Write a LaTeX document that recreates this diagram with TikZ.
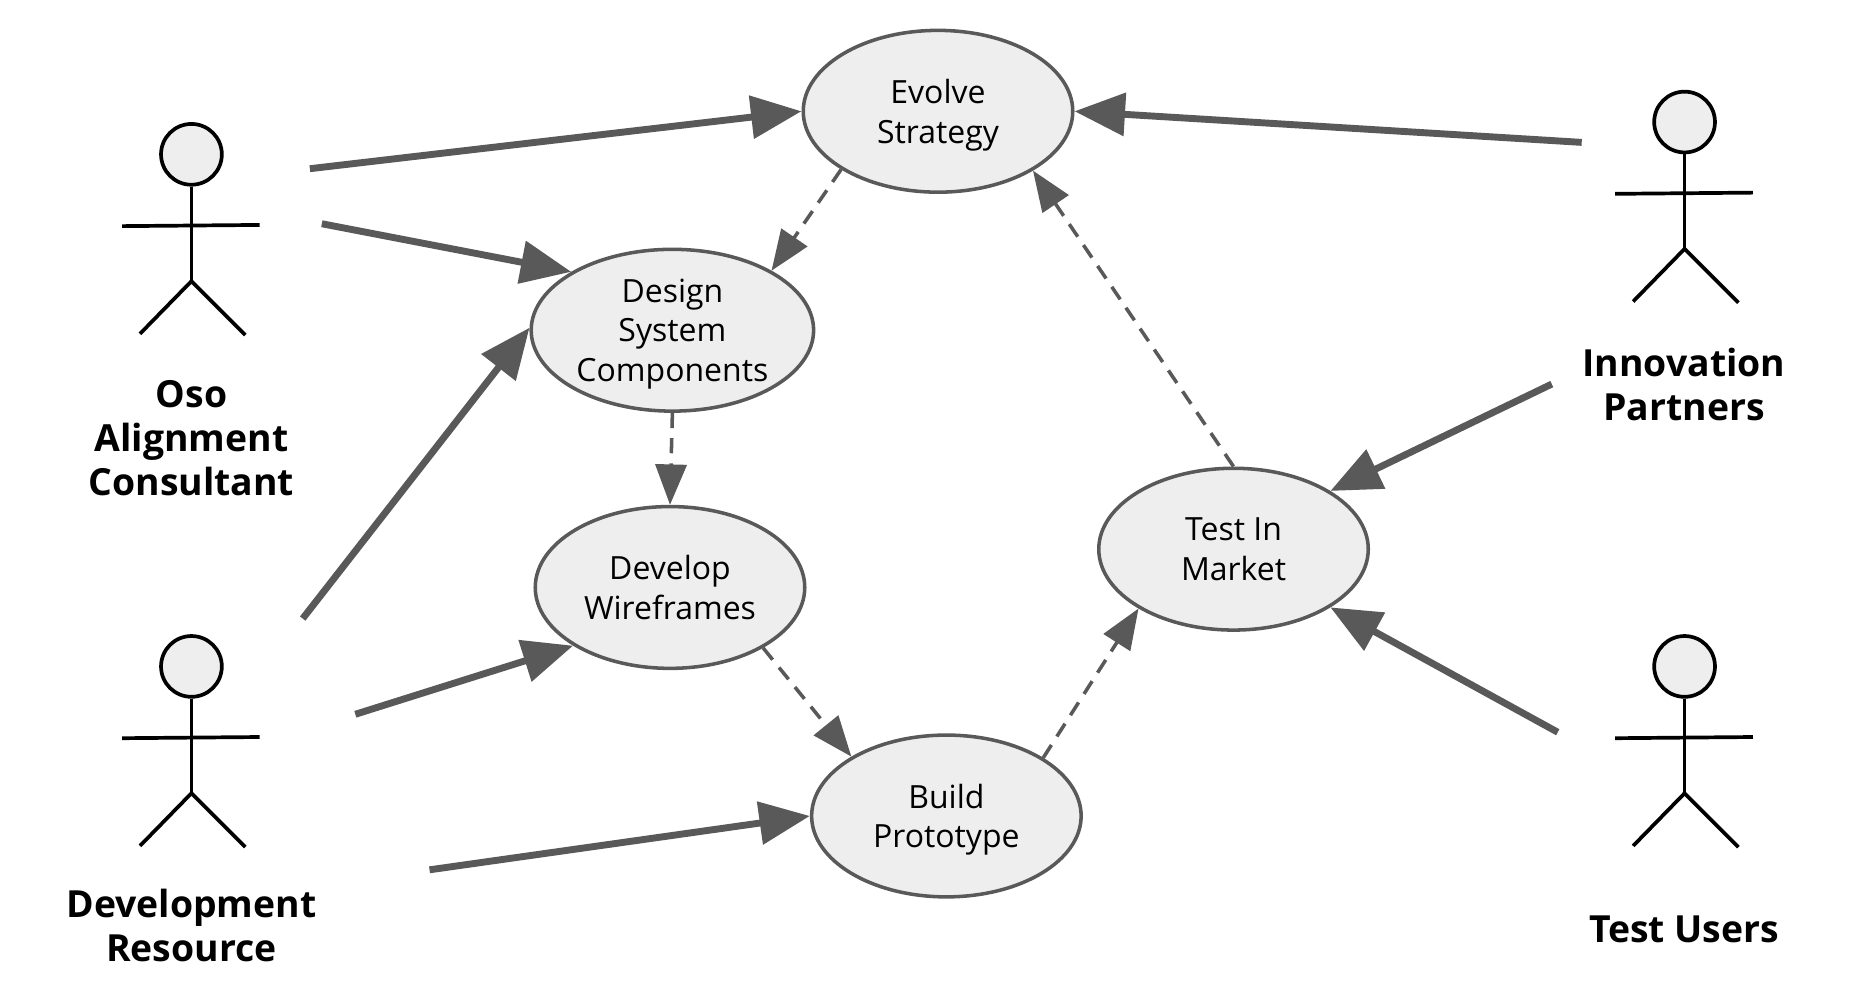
\documentclass[tikz,border=0pt]{standalone}
\usepackage{fontspec}
\setmainfont{Open Sans}
\usetikzlibrary{arrows.meta,shapes.geometric}
\begin{document}
\begin{tikzpicture}
	\def\incx{0.025}
	\def\incy{-0.025}
	\definecolor{edgegray}{HTML}{595959}
	\definecolor{fillgray}{HTML}{EEEEEE}

	\tikzstyle{usecase} = [ellipse,draw=edgegray,fill=fillgray,line width=2.1pt,inner sep=0pt,minimum width=5.63cm,minimum height=3.38cm,align=center,text depth=0pt,font=\fontsize{19}{23.5}\selectfont]
	\tikzstyle{actorname} = [align=center,font=\fontsize{22.2}{26}\selectfont\bfseries]
	\tikzstyle{actorhead} = [circle,draw=black,fill=fillgray,line width=2.2pt,inner sep=0pt,minimum size=1.27cm]
	\tikzstyle{actorlimb} = [draw=black,line width=2.2pt]
	\tikzstyle{assoc} = [-{Triangle[length=30pt,width=25pt]},edgegray,line width=4.1pt]
	\tikzstyle{flow} = [-{Triangle[length=24pt,width=18.5pt]},edgegray,line width=2.1pt,dash pattern=on 9pt off 6pt]

	\def\stickman#1#2#3{
		\begin{scope}[shift={(#2*\incx,#3*\incy)}]
			\node[actorhead] (#1) at (0,0) {};
			\coordinate (#1hip) at (0*\incx,106*\incy);
			\path[actorlimb] (#1.south) -- (#1hip);
			\path[actorlimb] (-58*\incx,60*\incy) -- (57*\incx,59*\incy);
			\path[actorlimb] (-43*\incx,150*\incy) -- (#1hip) -- (45*\incx,151*\incy);
		\end{scope}
	}

	\useasboundingbox (0,0) rectangle (1568*\incx,832.5*\incy);

	% NODES %
	\node[usecase] (evolve) at (784*\incx,93*\incy) {Evolve\\Strategy};
	\node[usecase,minimum width=5.9cm] (design) at (562*\incx,276*\incy) {Design\\System\\Components};
	\node[usecase] (develop) at (560*\incx,491*\incy) {Develop\\Wireframes};
	\node[usecase] (build) at (791*\incx,682*\incy) {Build\\Prototype};
	\node[usecase] (test) at (1031*\incx,459*\incy) {Test In\\Market};

	% ACTORS %
	\stickman{oso}{160}{129}
	\stickman{dev}{160}{557}
	\stickman{innov}{1408}{102}
	\stickman{users}{1408}{557}

	\node[actorname] (osoname) at (160*\incx,366*\incy) {Oso\\Alignment\\Consultant};
	\node[actorname] (devname) at (160*\incx,773.5*\incy) {Development\\Resource};
	\node[actorname] (innovname) at (1407.5*\incx,321.5*\incy) {Innovation\\Partners};
	\node[actorname] (usersname) at (1407.5*\incx,777*\incy) {Test Users};

	% FREE ENDS %
	\coordinate (osoa) at (259*\incx,141*\incy);
	\coordinate (osob) at (269*\incx,187*\incy);
	\coordinate (deva) at (253*\incx,517*\incy);
	\coordinate (devb) at (297*\incx,597*\incy);
	\coordinate (devc) at (359*\incx,727*\incy);
	\coordinate (innova) at (1322*\incx,119*\incy);
	\coordinate (innovb) at (1297*\incx,321*\incy);
	\coordinate (usersa) at (1302*\incx,612*\incy);

	% EDGES %
	%actors
	\draw[assoc] (osoa) -- (evolve.180);
	\draw[assoc] (osob) -- (design.150);
	\draw[assoc] (deva) -- (design.179);
	\draw[assoc] (devb) -- (develop.211);
	\draw[assoc] (devc) -- (build.180);
	\draw[assoc] (innova) -- (evolve.0);
	\draw[assoc] (innovb) -- (test.31);
	\draw[assoc] (usersa) -- (test.-31);
	%steps
	\draw[flow] (evolve.211) -- (design.31);
	\draw[flow] (design.south) -- (develop.north);
	\draw[flow] (develop.-33) -- (build.148);
	\draw[flow] (build.31) -- (test.212);
	\draw[flow] (test.north) -- (evolve.-32);
\end{tikzpicture}
\end{document}
